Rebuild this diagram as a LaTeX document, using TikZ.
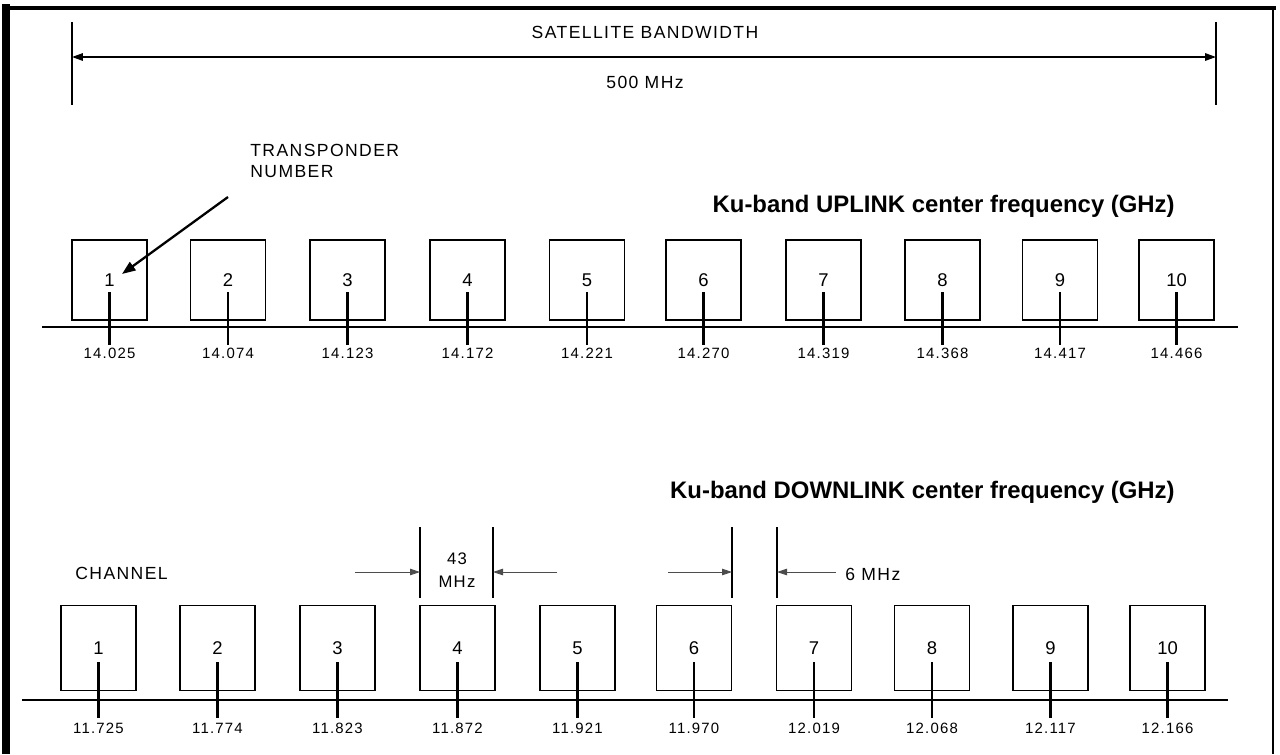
\documentclass[tikz,border=0pt]{standalone}
\usepackage{fontspec}
\setmainfont{Liberation Sans}
\newfontfamily\capsfont[LetterSpace=8]{Liberation Sans}
\usetikzlibrary{arrows.meta}
\begin{document}
\begin{tikzpicture}[x=0.02cm,y=-0.02cm,
  chbox/.style={draw,line width=1.1pt,minimum width=1.5cm,inner sep=0pt,font=\fontsize{10.5}{11}\selectfont},
  ubox/.style={chbox,minimum height=1.6cm},
  dbox/.style={chbox,minimum height=1.7cm},
  freq/.style={inner sep=0pt,font=\capsfont\fontsize{8.5}{9}\selectfont},
  lbl/.style={inner sep=0pt,font=\capsfont\fontsize{10}{11}\selectfont},
  ttl/.style={inner sep=0pt,font=\bfseries\fontsize{13.6}{15}\selectfont},
  base/.style={line width=1.1pt},
  tick/.style={line width=1.2pt},
  bar/.style={line width=1.2pt},
  tip/.style={-{Triangle[length=0.2cm,width=0.13cm]}},
  shaft/.style={line width=0.5pt,black!70}
]
\useasboundingbox (0,0) rectangle (1280,754);
% frame
\coordinate (fl1) at (6,4); \coordinate (fl2) at (6,754);
\coordinate (ft1) at (2,8); \coordinate (ft2) at (1276,8);
\coordinate (fr1) at (1273,8); \coordinate (fr2) at (1273,754);
\draw[line width=4.5pt] (fl1) -- (fl2);
\draw[line width=2.2pt] (ft1) -- (ft2);
\draw[line width=1pt] (fr1) -- (fr2);
% satellite bandwidth
\coordinate (bl1) at (72,22); \coordinate (bl2) at (72,105);
\coordinate (br1) at (1216,22); \coordinate (br2) at (1216,105);
\coordinate (bam) at (72,57); \coordinate (bbm) at (1216,57);
\draw[bar] (bl1) -- (bl2);
\draw[bar] (br1) -- (br2);
\draw[line width=0.9pt,{Triangle[length=0.22cm,width=0.15cm]}-{Triangle[length=0.22cm,width=0.15cm]}] (bam) -- (bbm);
\node[lbl] (sbw) at (645,32) {SATELLITE BANDWIDTH};
\node[lbl] (mhz500) at (645,82) {500 MHz};
% transponder number
\node[lbl,align=left,anchor=north west,font=\capsfont\fontsize{10}{12}\selectfont] (tn) at (250,144) {TRANSPONDER\\NUMBER};
% uplink
\node[ttl,anchor=east] (uttl) at (1175,206) {Ku-band UPLINK center frequency (GHz)};
\coordinate (ubl) at (42,327); \coordinate (ubr) at (1238,327);
\draw[base] (ubl) -- (ubr);
\foreach \i/\x/\f in {1/109.5/14.025,2/228/14.074,3/347.5/14.123,4/467.5/14.172,5/587/14.221,6/703.5/14.270,7/823.5/14.319,8/942.5/14.368,9/1060/14.417,10/1176.5/14.466}{
  \node[ubox] (u\i) at (\x,280) {\i};
  \coordinate (ut\i) at (\x,292);
  \coordinate (ub\i) at (\x,345);
  \draw[tick] (ut\i) -- (ub\i);
  \node[freq] (uf\i) at (\x,353) {\f};
}
\coordinate (tna) at (228,197);
\coordinate (tnb) at (122,274);
\draw[line width=1.3pt,-{Triangle[length=0.27cm,width=0.2cm]}] (tna) -- (tnb);
% downlink
\node[ttl,anchor=east] (dttl) at (1175,492) {Ku-band DOWNLINK center frequency (GHz)};
\node[lbl,anchor=west] (chl) at (75,573) {CHANNEL};
\coordinate (dbl) at (22,700); \coordinate (dbr) at (1228,700);
\draw[base] (dbl) -- (dbr);
\foreach \i/\x/\f in {1/98.5/11.725,2/217.5/11.774,3/337.5/11.823,4/457.5/11.872,5/577.5/11.921,6/694/11.970,7/814/12.019,8/932/12.068,9/1050.5/12.117,10/1167.5/12.166}{
  \node[dbox] (d\i) at (\x,648) {\i};
  \coordinate (dt\i) at (\x,662);
  \coordinate (db\i) at (\x,718);
  \draw[tick] (dt\i) -- (db\i);
  \node[freq] (df\i) at (\x,728) {\f};
}
% 43 MHz
\coordinate (g1a) at (420,527); \coordinate (g1b) at (420,598);
\coordinate (g2a) at (493,527); \coordinate (g2b) at (493,598);
\draw[bar] (g1a) -- (g1b);
\draw[bar] (g2a) -- (g2b);
\coordinate (a1s) at (355,572); \coordinate (a1e) at (420,572);
\coordinate (a2s) at (557,572); \coordinate (a2e) at (493,572);
\draw[shaft,tip] (a1s) -- (a1e);
\draw[shaft,tip] (a2s) -- (a2e);
\node[lbl,align=center,font=\capsfont\fontsize{9.5}{13}\selectfont] (m43) at (457,570) {43\\MHz};
% 6 MHz
\coordinate (h1a) at (732,527); \coordinate (h1b) at (732,598);
\coordinate (h2a) at (777,527); \coordinate (h2b) at (777,598);
\draw[bar] (h1a) -- (h1b);
\draw[bar] (h2a) -- (h2b);
\coordinate (c1s) at (668,572); \coordinate (c1e) at (732,572);
\coordinate (c2s) at (836,572); \coordinate (c2e) at (777,572);
\draw[shaft,tip] (c1s) -- (c1e);
\draw[shaft,tip] (c2s) -- (c2e);
\node[lbl,anchor=west] (m6) at (845,574) {6 MHz};
\end{tikzpicture}
\end{document}
